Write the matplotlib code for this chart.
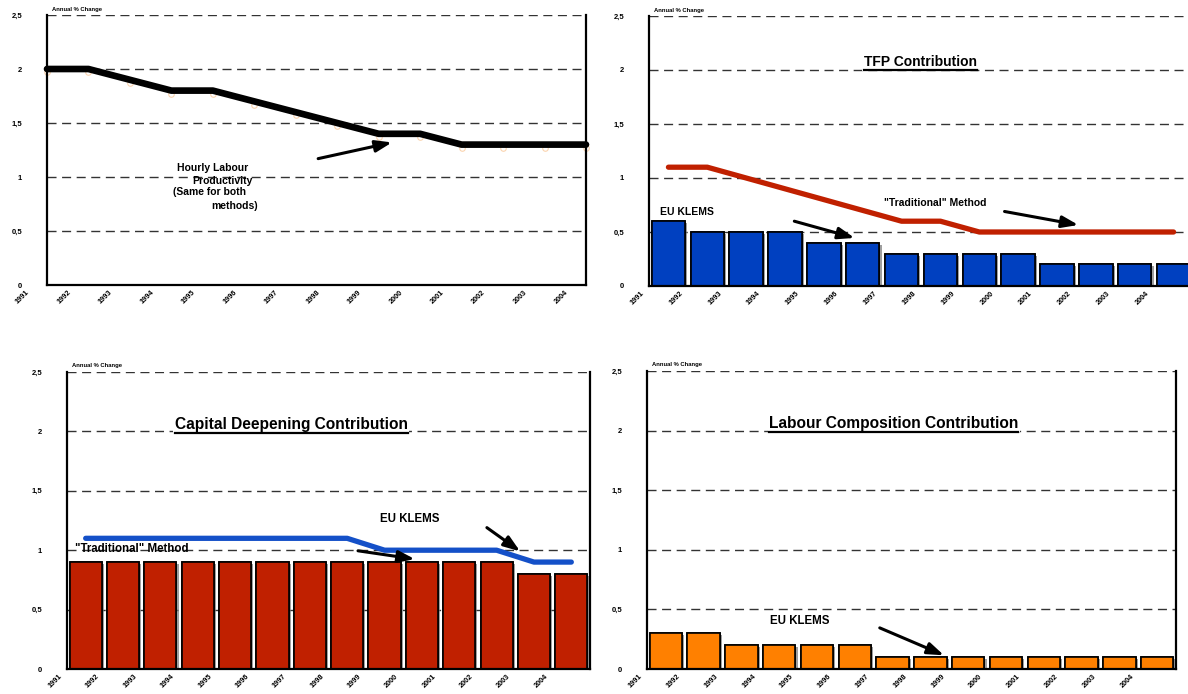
import matplotlib
matplotlib.use('Agg')
import matplotlib.pyplot as plt
import matplotlib.transforms as mtransforms
import matplotlib.patheffects as pe
from matplotlib.lines import Line2D

plt.rcParams['font.family'] = ['Liberation Sans', 'DejaVu Sans']
plt.rcParams['font.weight'] = 'bold'

years = ['1991', '1992', '1993', '1994', '1995', '1996', '1997',
         '1998', '1999', '2000', '2001', '2002', '2003', '2004']
x = list(range(len(years)))

# Hourly labour productivity (same for both methods)
labour_prod = [2.0, 2.0, 1.9, 1.8, 1.8, 1.7, 1.6, 1.5, 1.4, 1.4, 1.3, 1.3, 1.3, 1.3]

# TFP contribution
tfp_klems = [0.6, 0.5, 0.5, 0.5, 0.4, 0.4, 0.3, 0.3, 0.3, 0.3, 0.2, 0.2, 0.2, 0.2]
tfp_trad = [1.1, 1.1, 1.0, 0.9, 0.8, 0.7, 0.6, 0.6, 0.5, 0.5, 0.5, 0.5, 0.5, 0.5]

# Capital deepening contribution
cap_trad = [0.9, 0.9, 0.9, 0.9, 0.9, 0.9, 0.9, 0.9, 0.9, 0.9, 0.9, 0.9, 0.8, 0.8]
cap_klems = [1.1, 1.1, 1.1, 1.1, 1.1, 1.1, 1.1, 1.1, 1.0, 1.0, 1.0, 1.0, 0.9, 0.9]

# Labour composition contribution
lab_klems = [0.3, 0.3, 0.2, 0.2, 0.2, 0.2, 0.1, 0.1, 0.1, 0.1, 0.1, 0.1, 0.1, 0.1]

yticks = [0, 0.5, 1, 1.5, 2, 2.5]
ytick_labels = ['0', '0,5', '1', '1,5', '2', '2,5']

W, H = 1188, 694
fig = plt.figure(figsize=(W / 100, H / 100), dpi=100)
fig.patch.set_facecolor('white')


def px_axes(l, r, t, b):
    return fig.add_axes([l / W, 1 - b / H, (r - l) / W, (b - t) / H])


def style(ax, xlim, label_shift, show_right=True):
    ax.set_ylim(0, 2.5)
    ax.set_xlim(*xlim)
    for y in [0.5, 1, 1.5, 2, 2.5]:
        ax.axhline(y, color='#333333', lw=1.0, dashes=(6.5, 4), zorder=0.5)
    ax.spines['top'].set_visible(False)
    ax.spines['right'].set_visible(show_right)
    for s in ['left', 'right', 'bottom']:
        ax.spines[s].set_linewidth(1.6)
    ax.set_yticks(yticks)
    ax.set_yticklabels(ytick_labels, fontsize=5.5, fontweight='bold')
    ax.tick_params(axis='y', length=0, pad=18)
    ax.set_xticks(x)
    ax.set_xticklabels(years, rotation=45, ha='right', va='top',
                       fontsize=5.3, fontweight='bold')
    ax.tick_params(axis='x', length=0, pad=3)
    off = mtransforms.ScaledTranslation(-label_shift / 100, 0, fig.dpi_scale_trans)
    for lab in ax.get_xticklabels():
        lab.set_transform(lab.get_transform() + off)
    ax.text(0.01, 1.012, 'Annual % Change', transform=ax.transAxes,
            fontsize=4.2, fontweight='bold', va='bottom', ha='left')


def bars(ax, vals, color):
    ax.bar(x, vals, width=0.86, color=color, edgecolor='black', lw=1.2, zorder=2,
           path_effects=[pe.withSimplePatchShadow(offset=(1.5, -1.5),
                                                  shadow_rgbFace='#777777', alpha=0.7),
                         pe.Normal()])


def arrow(ax, tail, tip):
    ax.annotate('', xy=tip, xytext=tail,
                arrowprops=dict(arrowstyle='-|>,head_length=0.7,head_width=0.25',
                                color='black', lw=2.2, mutation_scale=14,
                                shrinkA=0, shrinkB=0), zorder=5)


titles = []

# ---- top left: hourly labour productivity
ax1 = px_axes(47, 586, 15, 285)
style(ax1, (0, 13), 16)
ax1.plot(x, labour_prod, color='black', lw=4.8, solid_capstyle='round',
         solid_joinstyle='round', zorder=3, clip_on=False)
ax1.plot(x, [v - 0.03 for v in labour_prod], ls='none', marker='o', ms=4,
         mfc='none', mec='#F5A050', mew=0.8, alpha=0.45, zorder=2, clip_on=False)
for tx, ty, s in [(3.13, 1.08, 'Hourly Labour'), (3.50, 0.96, 'Productivity'),
                  (3.04, 0.865, '(Same for both'), (3.96, 0.73, 'methods)')]:
    ax1.text(tx, ty, s, fontsize=7.5, fontweight='bold', ha='left', va='center')
arrow(ax1, (6.54, 1.17), (8.32, 1.32))

# ---- top right: TFP contribution
ax2 = px_axes(649, 1193, 16, 286)
style(ax2, (-0.5, 13.5), 23, show_right=False)
bars(ax2, tfp_klems, '#0040C0')
ax2.plot(x, tfp_trad, color='#C02000', lw=3.8, solid_capstyle='round',
         solid_joinstyle='round', zorder=3)
ax2.text(-0.22, 0.685, 'EU KLEMS', fontsize=7.5, fontweight='bold', va='center')
ax2.text(5.56, 0.77, '"Traditional" Method', fontsize=7.5, fontweight='bold', va='center')
arrow(ax2, (3.24, 0.60), (4.79, 0.445))
arrow(ax2, (8.65, 0.69), (10.55, 0.565))
titles.append(ax2.text(6.48, 2.07, 'TFP Contribution', fontsize=10, fontweight='bold',
                       ha='center', va='center', zorder=4,
                       bbox=dict(facecolor='white', edgecolor='none', pad=1)))

# ---- bottom left: capital deepening contribution
ax3 = px_axes(67, 590, 372, 669)
style(ax3, (-0.5, 13.5), 22)
bars(ax3, cap_trad, '#C02000')
ax3.plot(x, cap_klems, color='#1450C8', lw=3.8, solid_capstyle='round',
         solid_joinstyle='round', zorder=3)
ax3.text(-0.29, 1.01, '"Traditional" Method', fontsize=8.3, fontweight='bold', va='center')
ax3.text(7.88, 1.26, 'EU KLEMS', fontsize=8.3, fontweight='bold', va='center')
arrow(ax3, (7.29, 0.995), (8.81, 0.925))
arrow(ax3, (10.74, 1.19), (11.63, 0.99))
titles.append(ax3.text(5.5, 2.06, 'Capital Deepening Contribution', fontsize=11.2,
                       fontweight='bold', ha='center', va='center', zorder=4,
                       bbox=dict(facecolor='white', edgecolor='none', pad=1)))

# ---- bottom right: labour composition contribution
ax4 = px_axes(647, 1176, 371, 669)
style(ax4, (-0.5, 13.5), 22)
bars(ax4, lab_klems, '#FF8000')
ax4.text(2.75, 0.40, 'EU KLEMS', fontsize=8.3, fontweight='bold', va='center')
arrow(ax4, (5.66, 0.345), (7.36, 0.115))
titles.append(ax4.text(6.03, 2.06, 'Labour Composition Contribution', fontsize=11.2,
                       fontweight='bold', ha='center', va='center', zorder=4,
                       bbox=dict(facecolor='white', edgecolor='none', pad=1)))

# underline the panel titles
fig.canvas.draw()
renderer = fig.canvas.get_renderer()
for t in titles:
    bb = t.get_window_extent(renderer)
    y0 = bb.y0 - 1
    fig.add_artist(Line2D([bb.x0 / W, bb.x1 / W], [y0 / H, y0 / H],
                          color='black', lw=1.6, transform=fig.transFigure))

fig.savefig('out.png', dpi=100, facecolor='white')
